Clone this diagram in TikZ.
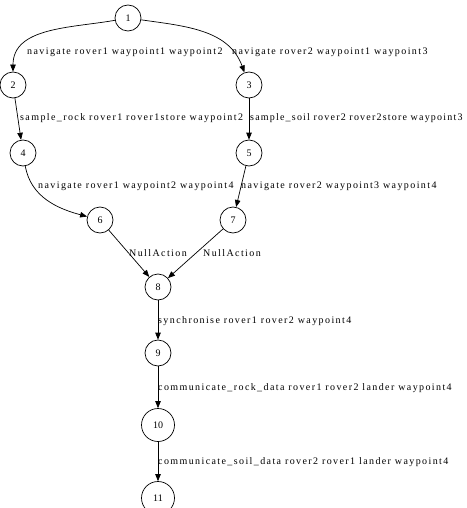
\documentclass[tikz,border=0pt]{standalone}
\usepackage{fontspec}
\setmainfont{Liberation Serif}
\newfontfamily\lblfont[LetterSpace=14]{Liberation Serif}
\newfontfamily\lblfonttight[LetterSpace=12]{Liberation Serif}
\usetikzlibrary{arrows.meta}
\begin{document}
\begin{tikzpicture}[x=1pt,y=-1pt,
  st/.style={circle,draw,line width=0.7pt,minimum size=26pt,inner sep=0pt,font=\fontsize{10}{11}\selectfont},
  bigst/.style={st,minimum size=33pt},
  edge/.style={draw,line width=0.7pt,-{Triangle[length=7pt,width=5.5pt]}},
  lbl/.style={anchor=west,inner sep=0pt,font=\lblfont\fontsize{10}{11}\selectfont},
  lbltight/.style={lbl,font=\lblfonttight\fontsize{10}{11}\selectfont}]
\useasboundingbox (0,0) rectangle (466,508);
\node[st] (n1) at (128,18) {1};
\node[st] (n2) at (13,85) {2};
\node[st] (n3) at (249,85) {3};
\node[st] (n4) at (23,153) {4};
\node[st] (n5) at (249,153) {5};
\node[st] (n6) at (100,220) {6};
\node[st] (n7) at (233,220) {7};
\node[st] (n8) at (158,287) {8};
\node[st] (n9) at (158,353) {9};
\node[bigst] (n10) at (158,425) {10};
\node[bigst] (n11) at (158,498) {11};
\draw[edge] (n1) to[out=190,in=90] (n2);
\draw[edge] (n1) to[out=-8,in=110] (n3);
\draw[edge] (n2) -- (n4);
\draw[edge] (n3) -- (n5);
\draw[edge] (n4) to[out=-80,in=165] (n6);
\draw[edge] (n5) -- (n7);
\draw[edge] (n6) -- (n8);
\draw[edge] (n7) -- (n8);
\draw[edge] (n8) -- (n9);
\draw[edge] (n9) -- (n10);
\draw[edge] (n10) -- (n11);
\node[lbl] (l12) at (27,52) {navigate rover1 waypoint1 waypoint2};
\node[lbl] (l13) at (232,52) {navigate rover2 waypoint1 waypoint3};
\node[lbl] (l24) at (20,118) {sample\_rock rover1 rover1store waypoint2};
\node[lbltight] (l35) at (250,118) {sample\_soil rover2 rover2store waypoint3};
\node[lbl] (l46) at (38,186) {navigate rover1 waypoint2 waypoint4};
\node[lbl] (l57) at (241,186) {navigate rover2 waypoint3 waypoint4};
\node[lbl] (l68) at (129,253) {NullAction};
\node[lbl] (l78) at (203,253) {NullAction};
\node[lbl] (l89) at (158,321) {synchronise rover1 rover2 waypoint4};
\node[lbl] (l910) at (158,388) {communicate\_rock\_data rover1 rover2 lander waypoint4};
\node[lbl] (l1011) at (158,462) {communicate\_soil\_data rover2 rover1 lander waypoint4};
\end{tikzpicture}
\end{document}
